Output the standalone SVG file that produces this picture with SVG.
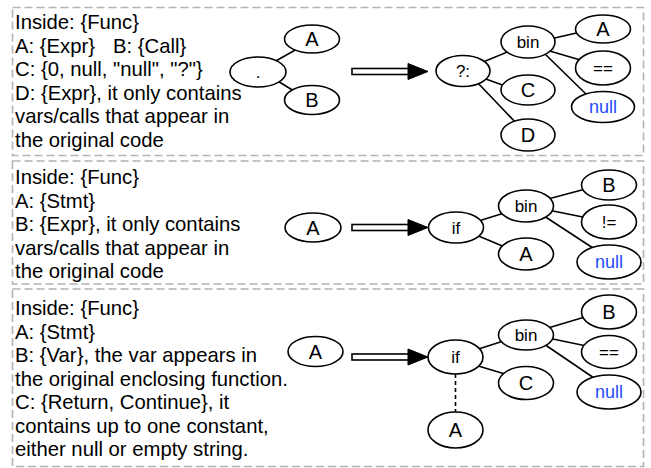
<svg xmlns="http://www.w3.org/2000/svg" width="651" height="468" viewBox="0 0 651 468">
<style>
text{font-family:"Liberation Sans",Arial,Helvetica,sans-serif;fill:#000}
.desc{font-size:20.3px}
.panel{fill:none;stroke:#b3b3b3;stroke-width:1.6;stroke-dasharray:8 4}
.n ellipse{fill:#fff;stroke:#000;stroke-width:1.6}
.n text{text-anchor:middle}
.big{font-size:20px}
.sm{font-size:17px}
.null{font-size:18px;fill:#1f4cff}
.e line{stroke:#000;stroke-width:1.6}
.e .dash{stroke-dasharray:4 3}
.arr rect{fill:#fff;stroke:#000;stroke-width:1.6}
.arr polygon{fill:#000;stroke:#000;stroke-width:1}
</style>
<rect class="panel" x="12.5" y="7.5" width="631" height="148"/>
<rect class="panel" x="12.5" y="161" width="631" height="123"/>
<rect class="panel" x="12.5" y="289" width="631" height="177.5"/>
<g id="text1" class="desc">
<text x="15" y="29">Inside: {Func}</text>
<text x="15" y="52.6">A: {Expr}</text>
<text x="113" y="52.6">B: {Call}</text>
<text x="15" y="76.2">C: {0, null, "null", "?"}</text>
<text x="15" y="99.8">D: {Expr}, it only contains</text>
<text x="15" y="123.4">vars/calls that appear in</text>
<text x="15" y="147">the original code</text>
</g>
<g id="text2" class="desc">
<text x="15" y="184">Inside: {Func}</text>
<text x="15" y="207.5">A: {Stmt}</text>
<text x="15" y="231">B: {Expr}, it only contains</text>
<text x="15" y="254.5">vars/calls that appear in</text>
<text x="15" y="278">the original code</text>
</g>
<g id="text3" class="desc">
<text x="15" y="315">Inside: {Func}</text>
<text x="15" y="338.5">A: {Stmt}</text>
<text x="15" y="362">B: {Var}, the var appears in</text>
<text x="15" y="385.5">the original enclosing function.</text>
<text x="15" y="409">C: {Return, Continue}, it</text>
<text x="15" y="432.5">contains up to one constant,</text>
<text x="15" y="456">either null or empty string.</text>
</g>
<g id="connectors" class="e">
<line x1="274" y1="62" x2="297" y2="49"/>
<line x1="276" y1="80" x2="294" y2="91"/>
<line x1="483" y1="62" x2="510" y2="51"/>
<line x1="483" y1="78" x2="508" y2="87"/>
<line x1="476" y1="81" x2="519" y2="126"/>
<line x1="550" y1="39" x2="581" y2="32"/>
<line x1="548" y1="50.5" x2="582" y2="60.5"/>
<line x1="544" y1="53" x2="589" y2="97"/>
<line x1="477" y1="221.5" x2="505" y2="212.7"/>
<line x1="475" y1="234.6" x2="506.5" y2="247.7"/>
<line x1="548" y1="199" x2="586.5" y2="188.7"/>
<line x1="548" y1="210" x2="586.5" y2="217.7"/>
<line x1="541" y1="214" x2="596" y2="250"/>
<line x1="477" y1="349.5" x2="505" y2="340.4"/>
<line x1="475" y1="365" x2="506.5" y2="374.5"/>
<line x1="548" y1="328" x2="586.5" y2="316.5"/>
<line x1="548" y1="338" x2="586.5" y2="346"/>
<line x1="541" y1="342" x2="594" y2="378"/>
<line class="dash" x1="455.5" y1="374" x2="455.5" y2="413"/>
<g class="arr"><rect x="352" y="68.5" width="57" height="6"/><polygon points="408,63.5 428,71.5 408,79.5"/></g>
<g class="arr"><rect x="352" y="224.5" width="57" height="6"/><polygon points="408,219.5 428,227.5 408,235.5"/></g>
<g class="arr"><rect x="352" y="354" width="57" height="6"/><polygon points="408,349 428,357 408,365"/></g>
</g>
<g id="p1-dot" class="n"><ellipse cx="258" cy="72" rx="28" ry="15"/><text class="sm" x="258" y="78">.</text></g>
<g id="p1-A" class="n"><ellipse cx="312" cy="39" rx="27.5" ry="14"/><text class="big" x="312" y="46">A</text></g>
<g id="p1-B" class="n"><ellipse cx="312" cy="100" rx="27.5" ry="14.5"/><text class="big" x="312" y="107">B</text></g>
<g id="p1-cond" class="n"><ellipse cx="463" cy="71" rx="27" ry="15.5"/><text class="sm" x="463" y="77">?:</text></g>
<g id="p1-bin" class="n"><ellipse cx="528" cy="42" rx="27" ry="16"/><text class="sm" x="528" y="48">bin</text></g>
<g id="p1-C" class="n"><ellipse cx="528" cy="90" rx="27" ry="15"/><text class="big" x="528" y="97">C</text></g>
<g id="p1-D" class="n"><ellipse cx="528" cy="135" rx="27" ry="16"/><text class="big" x="528" y="142">D</text></g>
<g id="p1-A2" class="n"><ellipse cx="603" cy="29" rx="27.5" ry="14"/><text class="big" x="603" y="36">A</text></g>
<g id="p1-eq" class="n"><ellipse cx="603" cy="68" rx="27.5" ry="17"/><text class="sm" x="603" y="74">==</text></g>
<g id="p1-null" class="n"><ellipse cx="603" cy="107" rx="31.5" ry="15.5"/><text class="null" x="603" y="113">null</text></g>
<g id="p2-A" class="n"><ellipse cx="313" cy="227.5" rx="28" ry="14.5"/><text class="big" x="313" y="234.5">A</text></g>
<g id="p2-if" class="n"><ellipse cx="456" cy="227.5" rx="27.5" ry="15.5"/><text class="sm" x="456" y="233.5">if</text></g>
<g id="p2-bin" class="n"><ellipse cx="526" cy="206" rx="27.5" ry="16"/><text class="sm" x="526" y="212">bin</text></g>
<g id="p2-A2" class="n"><ellipse cx="526" cy="254" rx="27.5" ry="16"/><text class="big" x="526" y="261">A</text></g>
<g id="p2-B" class="n"><ellipse cx="609" cy="185" rx="27.5" ry="15"/><text class="big" x="609" y="192">B</text></g>
<g id="p2-ne" class="n"><ellipse cx="609" cy="222" rx="27.5" ry="17"/><text class="sm" x="609" y="228">!=</text></g>
<g id="p2-null" class="n"><ellipse cx="609" cy="262" rx="32" ry="17"/><text class="null" x="609" y="268">null</text></g>
<g id="p3-A" class="n"><ellipse cx="315.5" cy="351.5" rx="27.5" ry="15"/><text class="big" x="315.5" y="358.5">A</text></g>
<g id="p3-if" class="n"><ellipse cx="455.5" cy="357" rx="27.5" ry="17"/><text class="sm" x="455.5" y="363">if</text></g>
<g id="p3-bin" class="n"><ellipse cx="526" cy="335" rx="27.5" ry="15"/><text class="sm" x="526" y="341">bin</text></g>
<g id="p3-C" class="n"><ellipse cx="526" cy="383" rx="27.5" ry="16.5"/><text class="big" x="526" y="390">C</text></g>
<g id="p3-B" class="n"><ellipse cx="609" cy="312" rx="27.5" ry="17"/><text class="big" x="609" y="319">B</text></g>
<g id="p3-eq" class="n"><ellipse cx="609" cy="352" rx="27.5" ry="16.5"/><text class="sm" x="609" y="358">==</text></g>
<g id="p3-null" class="n"><ellipse cx="609" cy="392" rx="32" ry="17"/><text class="null" x="609" y="398">null</text></g>
<g id="p3-A2" class="n"><ellipse cx="455.5" cy="430" rx="27.5" ry="18"/><text class="big" x="455.5" y="437">A</text></g>
</svg>
